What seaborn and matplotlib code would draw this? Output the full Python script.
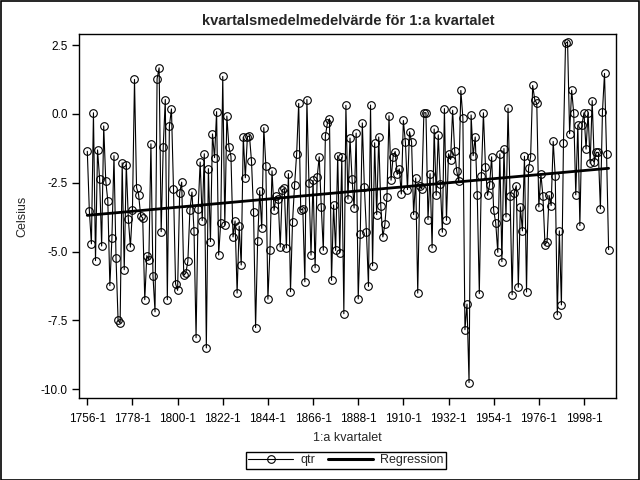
import numpy as np
import pandas as pd
import matplotlib
matplotlib.use("Agg")
import matplotlib.pyplot as plt
import seaborn as sns
from matplotlib.lines import Line2D
from matplotlib.patches import Rectangle

# ---- data ----
years = list(range(1756, 2011))
qtr = [
    -1.36, -3.52, -4.72, 0.04, -5.33, -1.31, -2.36, -4.80, -0.44, -2.44,   # 1756-1765
    -3.16, -6.24, -4.51, -1.52, -5.24, -7.50, -7.60, -1.78, -5.66, -1.84,   # 1766-1775
    -3.82, -4.84, -3.48, 1.25, -2.68, -2.93, -3.70, -3.78, -6.75, -5.15,    # 1776-1785
    -5.30, -1.09, -5.88, -7.19, 1.27, 1.67, -4.28, -1.19, 0.52, -6.75,      # 1786-1795
    -0.45, 0.18, -2.73, -6.17, -6.41, -2.87, -2.48, -5.87, -5.78, -5.36,    # 1796-1805
    -3.49, -2.84, -4.25, -8.13, -3.45, -1.75, -3.88, -1.45, -8.50, -1.99,   # 1806-1815
    -4.64, -0.73, -1.59, 0.08, -5.13, -3.96, 1.36, -4.04, -0.08, -1.20,     # 1816-1825
    -1.55, -4.47, -3.89, -6.51, -4.08, -5.49, -0.84, -2.32, -0.84, -0.79,   # 1826-1835
    -1.71, -3.55, -7.76, -4.63, -2.79, -4.16, -0.50, -1.88, -6.73, -4.94,   # 1836-1845
    -2.07, -3.51, -3.00, -3.10, -4.84, -2.76, -2.71, -4.87, -2.17, -6.46,   # 1846-1855
    -3.92, -2.58, -1.45, 0.38, -3.50, -3.44, -6.10, 0.52, -2.52, -5.13,     # 1856-1865
    -2.42, -5.59, -2.29, -1.56, -3.37, -4.96, -0.80, -0.33, -0.18, -6.05,   # 1866-1875
    -3.31, -4.96, -1.52, -5.05, -1.58, -7.26, 0.31, -3.10, -0.88, -2.36,    # 1876-1885
    -3.42, -0.70, -6.72, -4.35, -0.33, -2.65, -4.28, -6.27, 0.32, -5.52,    # 1886-1895
    -1.05, -3.66, -0.84, -3.36, -4.47, -4.01, -3.02, -0.07, -2.41, -1.55,   # 1896-1905
    -1.37, -2.20, -2.00, -2.91, -0.24, -1.04, -2.75, -0.65, -1.02, -3.66,   # 1906-1915
    -2.33, -6.51, -2.63, -2.72, 0.04, 0.04, -3.84, -2.17, -4.87, -0.55,     # 1916-1925
    -2.96, -0.76, -2.53, -4.30, 0.19, -3.87, -1.45, -1.66, 0.13, -1.35,     # 1926-1935
    -2.08, -2.45, 0.85, -0.15, -7.84, -6.91, -9.76, -0.04, -1.52, -0.84,    # 1936-1945
    -2.93, -6.53, -2.27, 0.04, -1.93, -2.96, -2.58, -1.56, -3.51, -3.96,    # 1946-1955
    -5.03, -1.45, -5.37, -1.26, -3.75, 0.21, -3.00, -6.57, -2.87, -2.61,    # 1956-1965
    -6.30, -3.38, -4.25, -1.54, -6.47, -1.96, -1.56, 1.03, 0.52, 0.38,      # 1966-1975
    -3.38, -2.18, -2.99, -4.75, -4.65, -2.96, -3.33, -1.00, -2.27, -7.30,   # 1976-1985
    -4.25, -6.94, -1.06, 2.56, 2.62, -0.72, 0.86, 0.02, -2.94, -0.40,       # 1986-1995
    -4.06, -0.40, 0.04, -1.28, 0.04, -1.80, 0.48, -1.75, -1.40, -1.40,      # 1996-2005
    -3.45, 0.08, 1.47, -1.45, -4.93,                                        # 2006-2010
]
xtick_years = list(range(1756, 2000, 22))
xtick_labels = [f"{y}-1" for y in xtick_years]
ytick_values = [2.5, 0.0, -2.5, -5.0, -7.5, -10.0]
ytick_labels = ["2.5", "0.0", "-2.5", "-5.0", "-7.5", "-10.0"]
title = "kvartalsmedelmedelvärde för 1:a kvartalet"
series_labels = ["qtr", "Regression"]

df = pd.DataFrame({"year": years, "qtr": qtr})

sns.set_style("white")
plt.rcParams['font.family'] = ['Liberation Sans', 'DejaVu Sans']
plt.rcParams['axes.unicode_minus'] = False

W, H = 640, 480
fig = plt.figure(figsize=(6.4, 4.8), dpi=100)
fig.patch.set_facecolor("white")
L, R, T, B = 79, 616, 34, 398
ax = fig.add_axes([L / W, 1 - B / H, (R - L) / W, (B - T) / H])

sns.lineplot(data=df, x="year", y="qtr", ax=ax, color="black", lw=0.8,
             marker="o", markersize=5.5, markerfacecolor="none",
             markeredgecolor="black", markeredgewidth=0.8)
sns.regplot(data=df, x="year", y="qtr", ax=ax, scatter=False, ci=None,
            truncate=True, line_kws=dict(color="black", lw=2.0))

ax.set_xlim(1751.96, 2013.6)
ax.set_ylim(-10.32, 2.9)
ax.set_xticks(xtick_years)
ax.set_xticklabels(xtick_labels)
ax.set_yticks(ytick_values)
ax.set_yticklabels(ytick_labels)
ax.tick_params(axis="both", which="both", direction="out", length=5, width=1,
               colors="black", labelsize=8.5, bottom=True, left=True, pad=3)
ax.tick_params(axis="x", pad=6)
for s in ax.spines.values():
    s.set_visible(True)
    s.set_color("black")
    s.set_linewidth(1)
ax.set_xlabel("")
ax.set_ylabel("")

fig.text(348 / W, 1 - 21 / H, title, ha="center", va="center",
         fontsize=10.5, fontweight="bold")
fig.text(22 / W, 1 - 216 / H, "Celsius", rotation=90, ha="center",
         va="center", fontsize=9)
fig.text(347 / W, 1 - 438 / H, "1:a kvartalet", ha="center", va="center",
         fontsize=9)

handles = [
    Line2D([], [], color="black", lw=0.8, marker="o", markerfacecolor="none",
           markeredgecolor="black", markersize=5.5, markeredgewidth=0.8),
    Line2D([], [], color="black", lw=2.2),
]
leg = fig.legend(handles, series_labels, loc="center",
                 bbox_to_anchor=(346 / W, 1 - 460 / H), ncol=2, frameon=True,
                 fancybox=False, edgecolor="black", framealpha=1, fontsize=9,
                 handlelength=3.6, columnspacing=1.0, borderpad=0.2,
                 handletextpad=0.6, borderaxespad=0)
leg.get_frame().set_linewidth(1)

fig.patches.append(Rectangle((0.5 / W, 0.5 / H), 1 - 1.5 / W, 1 - 1.5 / H,
                             transform=fig.transFigure, fill=False,
                             edgecolor="black", lw=1.2))

fig.savefig("out.png", dpi=100)
